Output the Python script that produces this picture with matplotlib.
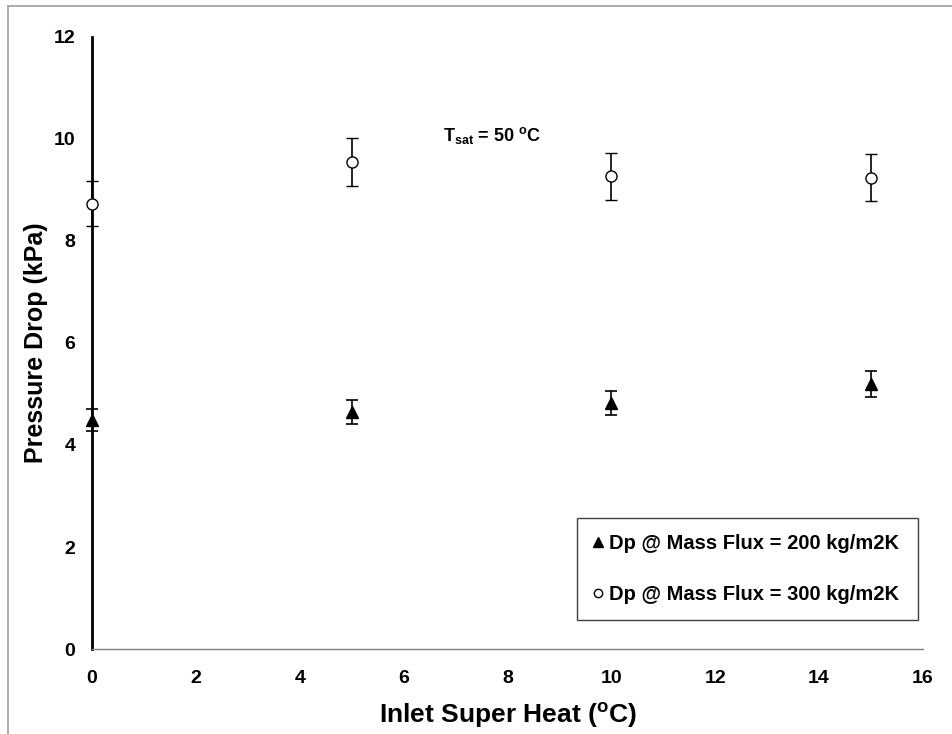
import matplotlib.pyplot as plt
from matplotlib.lines import Line2D

plt.rcParams['font.family'] = ['Liberation Sans', 'DejaVu Sans']
plt.rcParams['mathtext.fontset'] = 'custom'
plt.rcParams['mathtext.rm'] = 'Liberation Sans'
plt.rcParams['mathtext.bf'] = 'Liberation Sans:bold'

# Данные
superheat = [0, 5, 10, 15]
dp_200 = [4.49, 4.65, 4.82, 5.20]
err_200 = [0.22, 0.23, 0.24, 0.26]
dp_300 = [8.73, 9.55, 9.27, 9.24]
err_300 = [0.44, 0.47, 0.46, 0.46]
labels = ['Dp @ Mass Flux = 200 kg/m2K', 'Dp @ Mass Flux = 300 kg/m2K']

fig = plt.figure(figsize=(9.52, 7.34), dpi=100)
ax = fig.add_axes([0.0966, 0.1158, 0.8729, 0.8338])

ax.errorbar(superheat, dp_200, yerr=err_200, fmt='^', color='black',
            markersize=9, capsize=4, elinewidth=1.2, capthick=1.2,
            clip_on=False, zorder=3)
ax.errorbar(superheat, dp_300, yerr=err_300, fmt='o', color='black',
            mfc='white', markersize=8, mew=1, capsize=4, elinewidth=1.2,
            capthick=1.2, clip_on=False, zorder=3)

ax.set_xlim(0, 16)
ax.set_ylim(0, 12)
ax.set_xticks(range(0, 17, 2))
ax.set_yticks(range(0, 13, 2))
ax.tick_params(axis='both', length=0, labelsize=14)
ax.tick_params(axis='x', pad=15)
ax.tick_params(axis='y', pad=12)
for lab in ax.get_xticklabels() + ax.get_yticklabels():
    lab.set_fontweight('bold')

ax.spines['top'].set_visible(False)
ax.spines['right'].set_visible(False)
ax.spines['left'].set_linewidth(2)
ax.spines['left'].set_color('black')
ax.spines['bottom'].set_linewidth(1)
ax.spines['bottom'].set_color('#808080')

ax.set_xlabel(r'Inlet Super Heat ($^{\mathbf{o}}$C)', fontsize=19,
              fontweight='bold', labelpad=10)
ax.set_ylabel('Pressure Drop (kPa)', fontsize=18, fontweight='bold',
              labelpad=4)

ax.text(0.423, 0.83, r'$\mathbf{T_{sat}}$ = 50 $^{\mathbf{o}}$C',
        transform=ax.transAxes, fontsize=13, fontweight='bold')

handles = [Line2D([], [], marker='^', ls='none', color='black', markersize=7),
           Line2D([], [], marker='o', ls='none', color='black', mfc='white',
                  markersize=6, mew=1)]
leg = ax.legend(handles, labels, loc='lower left',
                bbox_to_anchor=(0.584, 0.047, 0.41, 0.197), mode='expand',
                prop={'weight': 'bold', 'size': 14.5},
                fancybox=False, edgecolor='#404040', framealpha=1,
                handlelength=0.5, handletextpad=0.3, borderpad=0.8,
                labelspacing=1.6, borderaxespad=0)
leg.get_frame().set_linewidth(1)

# рамка рисунка
fig.add_artist(Line2D([8/952, 8/952], [0, 1 - 6/734], color='#a0a0a0', lw=1.2))
fig.add_artist(Line2D([8/952, 1], [1 - 6/734, 1 - 6/734], color='#a0a0a0', lw=1.2))

fig.savefig('out.png', dpi=100)
